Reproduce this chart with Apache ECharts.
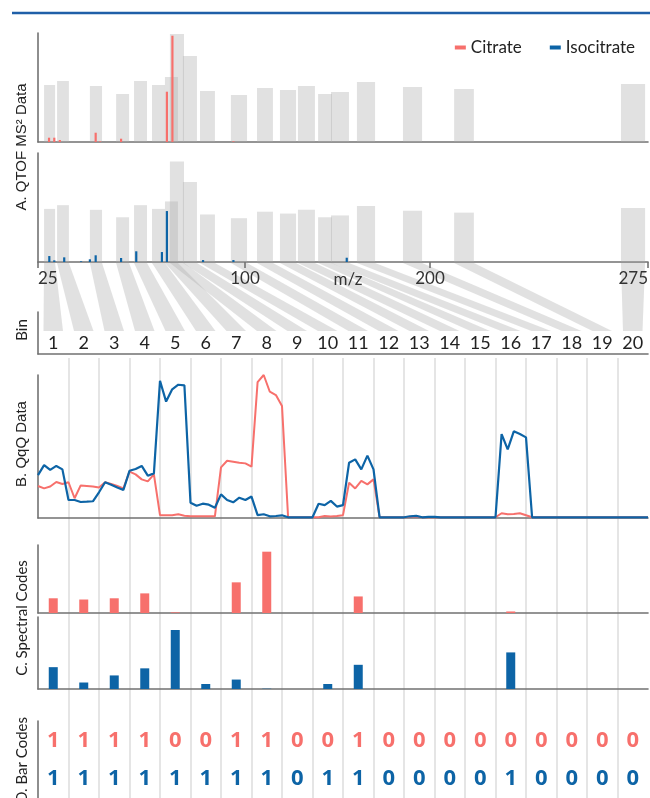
<!DOCTYPE html>
<html><head><meta charset="utf-8">
<script src="https://cdn.jsdelivr.net/npm/echarts@6/dist/echarts.min.js"></script>
<style>html,body{margin:0;padding:0;background:#fff}#c{width:650px;height:798px}</style>
</head><body><div id="c"></div>
<script>
// ---------- DATA ----------
const binLabels = ['1','2','3','4','5','6','7','8','9','10','11','12','13','14','15','16','17','18','19','20'];
// m/z tick labels of the QTOF axis
const mzTicks = [25, 100, 200, 275];
// MS/MS isolation windows of the 20 bins (m/z) and drawn window heights
const windowStart  = [27.2,31.9,43.8,53.3,59.8,66.3,71.0,72.8,77.5,83.7,94.9,106.5,118.9,128.6,139.5,146.5,160.5,185.4,208.3,265.7];
const windowEnd    = [31.2,36.2,48.2,58.0,64.5,71.0,75.7,77.9,82.6,89.1,101.1,115.1,127.6,137.8,147.0,156.2,170.3,195.7,215.1,274.0];
const windowHeight = [57,61,56,48,61,57,65,108,86,51,47,54,52,56,48,50,60,55,53,58];
// QTOF MS2 peaks
const citrateMz     = [29.0,30.9,32.9,45.9,47.5,55.1,71.7,73.7,95.8];
const citrateInt    = [4.3,4.3,2,9.3,0.7,3.3,50.3,106.3,0.7];
const isocitrateMz  = [29.1,30.9,34.5,40.6,43.8,45.9,55.1,60.6,69.9,71.7,84.8,95.8,155.0];
const isocitrateInt = [6.4,1.8,5,0.75,2.9,7.2,4.3,11.5,10.7,54.7,2.1,2.1,4.6];
// QqQ scans (5 scans per bin)
const qqqStep = 0.2;
const qqqCitrate = [22.4,20.7,22,25.2,23.8, 25,13.8,22.8,22.4,22, 21.4,25,23.8,22.4,20.7, 32.4,30.5,27,25.6,30.5,
  2,2,1.9,2.6,1.6, 1.2,1.2,1.2,1.2,1.2, 35.4,40,39.4,38.7,38.2, 35.9,95,100,88.3,86,
  78.3,0.5,0.5,0.5,0.5, 0.5,0.5,1.4,1,1.4, 2,24.7,20.7,26,23.5, 27,0.5,0.5,0.5,0.5,
  0.5,0.8,1,0.5,0.5, 0.5,0.5,0.5,0.5,0.5, 0.5,0.5,0.5,0.5,0.5, 0.5,3.3,2.6,2.8,3.3,
  1.9,0.5,0.5,0.5,0.5, 0.5,0.5,0.5,0.5,0.5, 0.5,0.5,0.5,0.5,0.5, 0.5,0.5,0.5,0.5,0.5, 0.5];
const qqqIsocitrate = [30,37,33.6,36.4,34, 12.6,12.6,11.2,11.4,11.7, 18,25,23.3,21.4,19.6, 33,34.3,36.4,29.6,31.2,
  96,81.4,90,93.2,92.8, 10.7,8.6,10,9.3,7.2, 16.5,12.6,11,14.2,12.6, 15,2,2.6,1.2,1.4,
  1.9,0.5,0.5,0.5,0.5, 0.5,10,9,12,8, 9,38.7,41,34,43.6, 34,0.5,0.5,0.5,0.5,
  0.5,1.2,1.5,0.5,0.8, 0.8,0.5,0.5,0.5,0.5, 0.5,0.5,0.5,0.5,0.5, 0.5,58.7,48,60.6,58.7,
  56.4,0.5,0.5,0.5,0.5, 0.5,0.5,0.5,0.5,0.5, 0.5,0.5,0.5,0.5,0.5, 0.5,0.5,0.5,0.5,0.5, 0.5];
// Spectral codes per bin
const specCitrate    = [0.24,0.22,0.24,0.32,0.01,0,0.50,1.0,0,0,0.27,0,0,0,0,0.025,0,0,0,0];
const specIsocitrate = [0.37,0.11,0.23,0.35,1.0,0.085,0.16,0.005,0,0.085,0.41,0,0,0,0,0.62,0,0,0,0];
// Bar codes per bin
const barCodeCitrate    = [1,1,1,1,0,0,1,1,0,0,1,0,0,0,0,0,0,0,0,0];
const barCodeIsocitrate = [1,1,1,1,1,1,1,1,0,1,1,0,0,0,0,1,0,0,0,0];

// ---------- STYLE / LAYOUT ----------
const RED = '#f7706c', BLUE = '#0d64a6', AXIS = '#727272', GREY = 'rgba(172,172,172,0.36)';
const L = 38, W = 610;
// piecewise m/z scale of the figure: axis units at each m/z tick
const mzTickPos = [0, 207, 392, 610];
function mzToU(mz){
  for (let i = 1; i < mzTicks.length; i++) {
    if (mz <= mzTicks[i] || i === mzTicks.length - 1) {
      const a = mzTicks[i-1], b = mzTicks[i];
      return mzTickPos[i-1] + (mz - a) / (b - a) * (mzTickPos[i] - mzTickPos[i-1]);
    }
  }
}
const axLine = {show:true, onZero:false, lineStyle:{color:AXIS, width:1.6}};
function grid(top, height){ return {left:L, width:W, top:top, height:height, containLabel:false, outerBoundsMode:'none'}; }
function yAx(g, max, extra){ return Object.assign({type:'value', gridIndex:g, min:0, max:max, axisLine:axLine, axisTick:{show:false}, axisLabel:{show:false}, splitLine:{show:false}}, extra||{}); }
function xBins(g, extra){ return Object.assign({type:'value', gridIndex:g, min:0, max:20, axisLine:axLine, axisTick:{show:false}, axisLabel:{show:false}, splitLine:{show:false}}, extra||{}); }

const grids = [grid(33,109), grid(153,109), grid(312,42), grid(358,440), grid(375,143), grid(545,68), grid(617,72), grid(721,77)];

const xAxes = [
  {type:'value', gridIndex:0, min:0, max:W, axisLine:axLine, axisTick:{show:false}, axisLabel:{show:false}, splitLine:{show:false}},
  {type:'value', gridIndex:1, min:0, max:W, axisLine:axLine,
    axisTick:{show:true, customValues:mzTickPos, length:6, lineStyle:{color:AXIS, width:1.6}},
    axisLabel:{show:true, customValues:mzTickPos, margin:8, fontSize:17, color:'#333', fontFamily:'Lato',
      alignMinLabel:'left', alignMaxLabel:'right',
      formatter:v=>{let best=0; mzTickPos.forEach((p,i)=>{ if (Math.abs(p-v)<Math.abs(mzTickPos[best]-v)) best=i; }); return String(mzTicks[best]);}},
    splitLine:{show:false}},
  xBins(2, {axisLabel:{show:true, inside:true, margin:2, fontSize:18, color:'#222', fontFamily:'Lato',
    customValues:binLabels.map((b,i)=>i+0.5), formatter:v=>binLabels[Math.floor(v)]}}),
  xBins(3, {axisLine:{show:false}, splitLine:{show:true, showMinLine:false, showMaxLine:false, lineStyle:{color:'#dcdcdc', width:1.5}}, interval:1}),
  xBins(4), xBins(5), xBins(6), xBins(7, {axisLine:{show:false}})
];
const yAxes = [
  yAx(0,109), yAx(1,117), yAx(2,1), {type:'value', gridIndex:3, show:false, min:0, max:1},
  yAx(4,100), yAx(5,1.109), yAx(6,1.22),
  {type:'category', gridIndex:7, data:['Isocitrate','Citrate'], axisLine:axLine, axisTick:{show:false}, axisLabel:{show:false}, splitLine:{show:false}}
];

function windowSeries(g){
  return {type:'custom', name:'win'+g, xAxisIndex:g, yAxisIndex:g, silent:true, z:1,
    data: windowStart.map((s,i)=>[s, windowEnd[i], windowHeight[i]]),
    renderItem:(p, api)=>{
      const a = api.coord([mzToU(api.value(0)), api.value(2)]);
      const b = api.coord([mzToU(api.value(1)), 0]);
      return {type:'rect', shape:{x:a[0], y:a[1], width:b[0]-a[0], height:b[1]-a[1]}, style:{fill:GREY}};
    }};
}
function peakSeries(g, name, mz, inten, color){
  return {type:'custom', name:name, xAxisIndex:g, yAxisIndex:g, z:3, itemStyle:{color:color},
    data: mz.map((m,i)=>[m, inten[i]]),
    renderItem:(p, api)=>{
      const a = api.coord([mzToU(api.value(0)), api.value(1)]);
      const b = api.coord([mzToU(api.value(0)), 0]);
      return {type:'rect', shape:{x:a[0]-1.1, y:a[1], width:2.2, height:b[1]-a[1]}, style:{fill:color}};
    }};
}
function codeSeries(name, codes, row, color){
  return {type:'custom', name:name, xAxisIndex:7, yAxisIndex:7, itemStyle:{color:color},
    data: codes.map((c,i)=>[i+0.5, row, c]),
    renderItem:(p, api)=>{
      const pt = api.coord([api.value(0), row]);
      return {type:'text', x:pt[0], y:pt[1], style:{text:String(api.value(2)), fill:color, fontSize:22, fontWeight:'bold', fontFamily:'Open Sans', align:'center', verticalAlign:'middle'}};
    }};
}

const series = [
  windowSeries(0), windowSeries(1),
  peakSeries(0, 'Citrate', citrateMz, citrateInt, RED),
  peakSeries(1, 'Isocitrate', isocitrateMz, isocitrateInt, BLUE),
  {type:'line', name:'Citrate', xAxisIndex:4, yAxisIndex:4, showSymbol:false, symbol:'none', z:3,
    lineStyle:{color:RED, width:2}, itemStyle:{color:RED}, data:qqqCitrate.map((v,i)=>[i*qqqStep, v])},
  {type:'line', name:'Isocitrate', xAxisIndex:4, yAxisIndex:4, showSymbol:false, symbol:'none', z:4,
    lineStyle:{color:BLUE, width:2.2}, itemStyle:{color:BLUE}, data:qqqIsocitrate.map((v,i)=>[i*qqqStep, v])},
  {type:'bar', name:'Citrate', xAxisIndex:5, yAxisIndex:5, barWidth:9, itemStyle:{color:RED}, data:specCitrate.map((v,i)=>[i+0.5, v])},
  {type:'bar', name:'Isocitrate', xAxisIndex:6, yAxisIndex:6, barWidth:9, itemStyle:{color:BLUE}, data:specIsocitrate.map((v,i)=>[i+0.5, v])},
  codeSeries('Citrate', barCodeCitrate, 1, RED),
  codeSeries('Isocitrate', barCodeIsocitrate, 0, BLUE)
];

function vTitle(text, y, font){
  return {type:'text', x:22, y:y, rotation:Math.PI/2, silent:true,
    style:{text:text, fill:'#222', fontSize:15, fontFamily:font, align:'center', verticalAlign:'middle'}};
}
const baseGraphics = [
  {type:'line', shape:{x1:12, y1:13, x2:650, y2:13}, style:{stroke:'#1f5fa8', lineWidth:2.5}, silent:true},
  vTitle('A. QTOF MS\u00b2 Data', 147, 'Liberation Sans'),
  vTitle('Bin', 330, 'Lato'),
  vTitle('B. QqQ Data', 444, 'Liberation Sans'),
  vTitle('C. Spectral Codes', 618, 'Lato'),
  vTitle('D. Bar Codes', 760, 'Lato'),
  {type:'text', x:348, y:280, silent:true, style:{text:'m/z', fill:'#333', fontSize:17, fontFamily:'Lato', align:'center', verticalAlign:'middle'}}
];

const chart = echarts.init(document.getElementById('c'), null, {renderer:'canvas'});
chart.setOption({
  animation:false,
  backgroundColor:'#fff',
  legend:{data:[{name:'Citrate', itemStyle:{color:RED}}, {name:'Isocitrate', itemStyle:{color:BLUE}}],
    right:10, top:34, icon:'rect', itemWidth:11, itemHeight:4, itemGap:28,
    textStyle:{fontSize:17, color:'#222', fontFamily:'Lato'}},
  grid:grids, xAxis:xAxes, yAxis:yAxes, series:series,
  graphic:{elements:baseGraphics}
});

// connecting stripes from m/z windows to bins, placed with the chart's own axes
const yTop = chart.convertToPixel({yAxisIndex:1}, 0) + 1;
const yBot = chart.convertToPixel({yAxisIndex:2}, 0.55);
const stripes = windowStart.map((s,i)=>{
  const x0 = chart.convertToPixel({xAxisIndex:1}, mzToU(s));
  const x1 = chart.convertToPixel({xAxisIndex:1}, mzToU(windowEnd[i]));
  const b0 = chart.convertToPixel({xAxisIndex:2}, i+0.5-0.32);
  const b1 = chart.convertToPixel({xAxisIndex:2}, i+0.5+0.32);
  return {type:'polygon', z:-1, silent:true, shape:{points:[[x0,yTop],[x1,yTop],[b1,yBot],[b0,yBot]]}, style:{fill:GREY}};
});
chart.setOption({graphic:{elements:baseGraphics.concat(stripes)}});
</script>
</body></html>
